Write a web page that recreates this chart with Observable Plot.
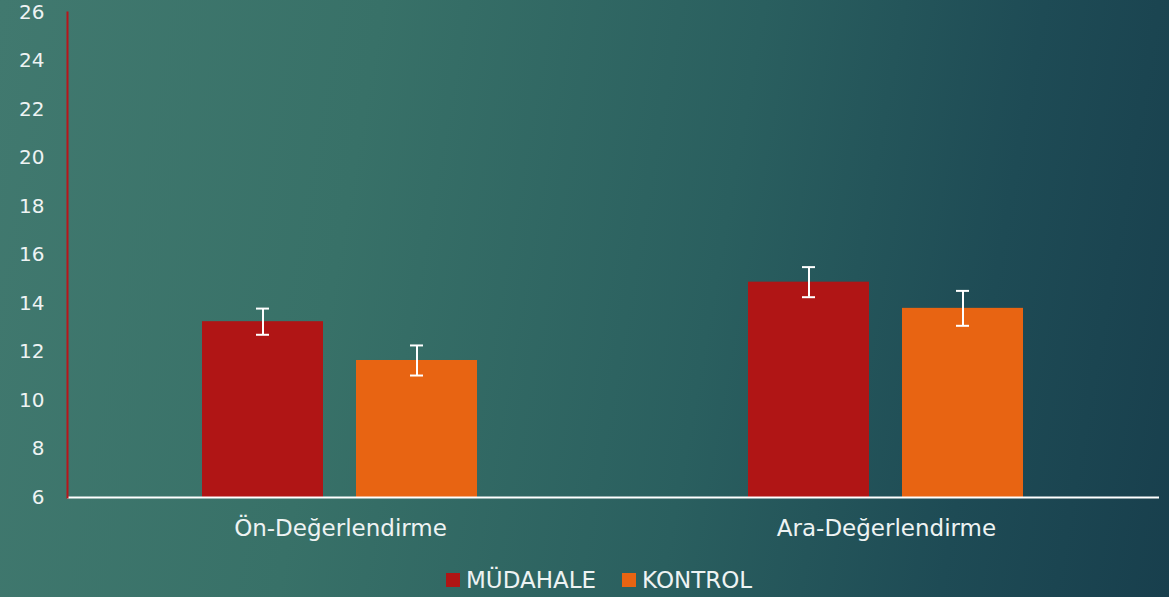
<!DOCTYPE html>
<html>
<head>
<meta charset="utf-8">
<script src="https://cdn.jsdelivr.net/npm/d3@7"></script>
<script src="https://cdn.jsdelivr.net/npm/@observablehq/plot@0.6"></script>
<style>
  html, body { margin: 0; padding: 0; }
  body {
    width: 1169px; height: 597px; overflow: hidden;
    background: linear-gradient(100deg, #41796f 0%, #387168 30%, #2a5f5f 60%, #1e4b55 82%, #183f4d 100%);
    font-family: "DejaVu Sans", sans-serif;
  }
  #wrap { position: relative; width: 1169px; height: 597px; }
  #legend { position: absolute; top: 567px; left: 446px; display: flex; align-items: center; color: #eef3f3; font-size: 23px; }
  .item { display: flex; align-items: center; margin-right: 26px; }
  .sw { width: 14px; height: 14px; margin-right: 6px; }
</style>
</head>
<body>
<div id="wrap">
  <div id="chart"></div>
  <div id="legend"></div>
</div>
<script>
const categories = ["Ön-Değerlendirme", "Ara-Değerlendirme"];
const series = ["MÜDAHALE", "KONTROL"];
const mudahaleValues = [13.25, 14.88];
const kontrolValues = [11.65, 13.8];
const mudahaleErrors = [0.54, 0.62];
const kontrolErrors = [0.62, 0.72];
const seriesColors = ["#b01515", "#e86412"];
const yTicks = [6, 8, 10, 12, 14, 16, 18, 20, 22, 24, 26];

const rows = [];
categories.forEach((c, i) => {
  rows.push({category: c, series: series[0], value: mudahaleValues[i], err: mudahaleErrors[i]});
  rows.push({category: c, series: series[1], value: kontrolValues[i], err: kontrolErrors[i]});
});

const textColor = "#eef3f3";

const plot = Plot.plot({
  width: 1169,
  height: 555,
  marginTop: 12,
  marginBottom: 58,
  marginLeft: 67,
  marginRight: 10,
  style: {background: "transparent", color: textColor, fontFamily: "DejaVu Sans, sans-serif", overflow: "visible"},
  fx: {domain: categories, padding: 0, label: null},
  x: {domain: series, paddingInner: 0.213, paddingOuter: 0.868, axis: null},
  y: {domain: [6, 26], label: null},
  color: {domain: series, range: seriesColors},
  marks: [
    Plot.axisY({ticks: yTicks, tickSize: 0, tickPadding: 23, fontSize: 20, label: null, fill: textColor}),
    Plot.axisFx({anchor: "bottom", tickSize: 0, tickPadding: 22, fontSize: 23, label: null, fill: textColor}),
    Plot.barY(rows, {fx: "category", x: "series", y1: 6, y2: "value", fill: "series"}),
    Plot.ruleX(rows, {fx: "category", x: "series", y1: d => d.value - d.err, y2: d => d.value + d.err, stroke: "white", strokeWidth: 2}),
    Plot.tickY(rows, {fx: "category", x: "series", y: d => d.value + d.err, stroke: "white", strokeWidth: 2, insetLeft: 54, insetRight: 54}),
    Plot.tickY(rows, {fx: "category", x: "series", y: d => d.value - d.err, stroke: "white", strokeWidth: 2, insetLeft: 54, insetRight: 54}),
    Plot.ruleY([6], {stroke: "white", strokeWidth: 2}),
    Plot.frame({anchor: "left", facetAnchor: "left", stroke: "#b8151a", strokeWidth: 2})
  ]
});
document.getElementById("chart").appendChild(plot);

const legend = document.getElementById("legend");
series.forEach((s, i) => {
  const item = document.createElement("div");
  item.className = "item";
  const sw = document.createElement("div");
  sw.className = "sw";
  sw.style.background = seriesColors[i];
  const label = document.createElement("span");
  label.textContent = s;
  item.appendChild(sw);
  item.appendChild(label);
  legend.appendChild(item);
});
</script>
</body>
</html>
